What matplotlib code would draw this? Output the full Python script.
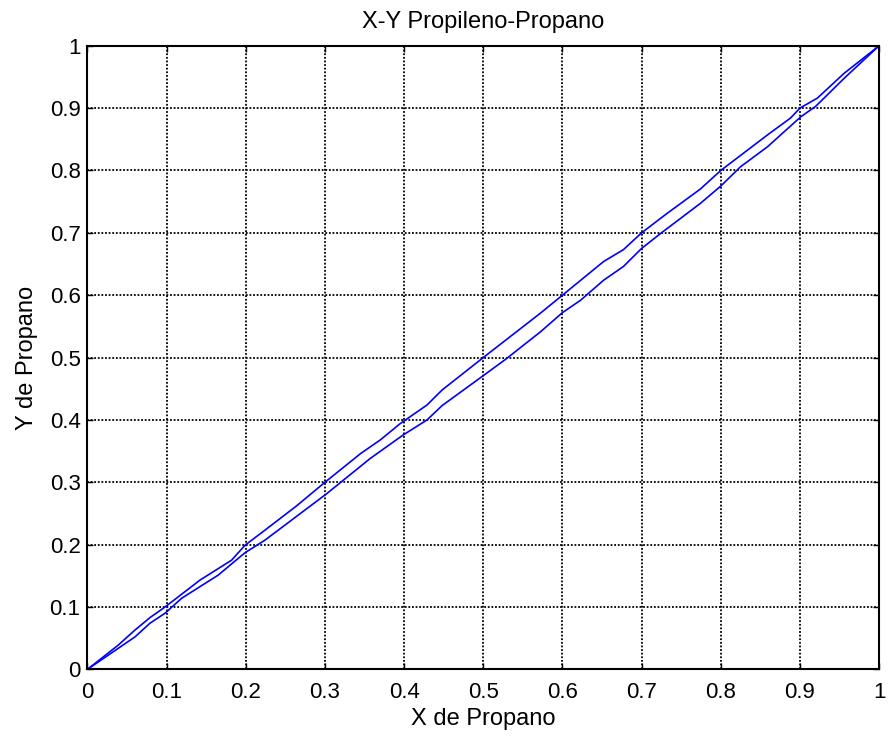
import matplotlib
matplotlib.use('Agg')
import matplotlib.pyplot as plt
import numpy as np

# datos (fraccion molar de propano)
x_sup = [0, 0.039, 0.060, 0.079, 0.098, 0.142, 0.182, 0.199, 0.224, 0.264, 0.300,
         0.345, 0.370, 0.395, 0.429, 0.448, 0.500, 0.572, 0.600, 0.652, 0.677,
         0.700, 0.732, 0.774, 0.800, 0.859, 0.888, 0.900, 0.922, 0.956, 1.0]
y_sup = [0, 0.039, 0.063, 0.083, 0.100, 0.143, 0.175, 0.199, 0.223, 0.262, 0.300,
         0.346, 0.368, 0.394, 0.424, 0.448, 0.500, 0.571, 0.600, 0.654, 0.673,
         0.700, 0.731, 0.770, 0.800, 0.857, 0.884, 0.900, 0.916, 0.956, 1.0]

x_inf = [0, 0.060, 0.079, 0.098, 0.119, 0.165, 0.199, 0.224, 0.269, 0.3015, 0.357,
         0.399, 0.429, 0.448, 0.500, 0.528, 0.572, 0.600, 0.623, 0.652, 0.677,
         0.700, 0.724, 0.774, 0.800, 0.825, 0.859, 0.901, 0.920, 0.956, 1.0]
y_inf = [0, 0.052, 0.074, 0.090, 0.114, 0.151, 0.187, 0.207, 0.250, 0.281, 0.338,
         0.376, 0.400, 0.423, 0.471, 0.497, 0.541, 0.572, 0.592, 0.624, 0.646,
         0.675, 0.699, 0.747, 0.775, 0.806, 0.838, 0.886, 0.903, 0.948, 1.0]

ticks = np.round(np.arange(0, 1.01, 0.1), 1)
tick_labels = ['0', '0.1', '0.2', '0.3', '0.4', '0.5', '0.6', '0.7', '0.8', '0.9', '1']

plt.rcParams['font.family'] = ['Liberation Sans', 'DejaVu Sans']

fig = plt.figure(figsize=(8.88, 7.4), dpi=100)
ax = fig.add_axes([0.0985, 0.0955, 0.8915, 0.8427])

ax.plot(x_sup, y_sup, color='#0000ff', lw=1.2)
ax.plot(x_inf, y_inf, color='#0000ff', lw=1.2)

ax.set_xlim(0, 1)
ax.set_ylim(0, 1)
ax.set_xticks(ticks)
ax.set_yticks(ticks)
ax.set_xticklabels(tick_labels)
ax.set_yticklabels(tick_labels)
ax.tick_params(direction='in', length=4, width=1, labelsize=16, top=True, right=True,
               colors='black')
ax.tick_params(axis='x', pad=9)
ax.tick_params(axis='y', pad=5)
ax.grid(True, color='black', linestyle=(0, (1, 1)), linewidth=1.3)
for s in ax.spines.values():
    s.set_linewidth(1.5)

ax.set_title('X-Y Propileno-Propano', fontsize=17, pad=13)
ax.set_xlabel('X de Propano', fontsize=17, labelpad=4)
ax.set_ylabel('Y de Propano', fontsize=17, labelpad=8)

plt.savefig('out.png', dpi=100)
